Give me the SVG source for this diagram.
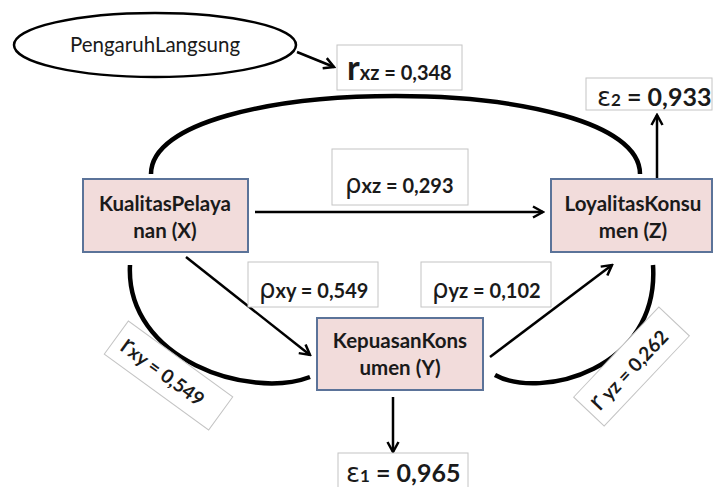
<svg xmlns="http://www.w3.org/2000/svg" width="713" height="487" viewBox="0 0 713 487">
<style>
.node{fill:#f2dcdb;stroke:#5b7399;stroke-width:2}
.lbl{fill:#fff;stroke:#c4c4c4;stroke-width:1}
.t{font-family:Lato,"Liberation Sans",sans-serif;fill:#1a1a1a}
.b{font-weight:bold}
.arr{stroke:#000;stroke-width:2.5;fill:none;marker-end:url(#ah)}
.arc{stroke:#000;stroke-width:4.5;fill:none}
.sym{font-family:"DejaVu Sans","Liberation Sans",sans-serif}
</style>
<defs>
<marker id="ah" viewBox="0 0 14 14" refX="12" refY="7" markerWidth="14" markerHeight="14" markerUnits="userSpaceOnUse" orient="auto">
<path d="M2,1.5 L12,7 L2,12.5" fill="none" stroke="#000" stroke-width="2.5"/>
</marker>
</defs>
<g id="connectors">
<path class="arc" d="M151,174 C151,70 640,70 640,174"/>
<path class="arc" d="M130,265 C125,360 250,400 310,377"/>
<path class="arc" d="M495,375 C540,400 660,370 653,265"/>
<line class="arr" x1="297" y1="52" x2="334" y2="67"/>
<line class="arr" x1="255" y1="212" x2="543" y2="212"/>
<line class="arr" x1="186" y1="257" x2="310" y2="355"/>
<line class="arr" x1="490" y1="357" x2="612" y2="265"/>
<line class="arr" x1="393" y1="397" x2="393" y2="452"/>
<line class="arr" x1="657" y1="178" x2="657" y2="115"/>
</g>
<g id="pengaruh">
<ellipse cx="155" cy="45" rx="141" ry="32" fill="#fff" stroke="#000" stroke-width="2.5"/>
<text class="t" x="155" y="52" font-size="20.5" text-anchor="middle">PengaruhLangsung</text>
</g>
<g id="X">
<rect class="node" x="83" y="179" width="165" height="73"/>
<text class="t b" x="165" y="211" font-size="20.5" text-anchor="middle">KualitasPelaya</text>
<text class="t b" x="165" y="238" font-size="20.5" text-anchor="middle">nan (X)</text>
</g>
<g id="Z">
<rect class="node" x="551" y="179" width="161" height="73"/>
<text class="t b" x="633" y="211" font-size="20.5" text-anchor="middle">LoyalitasKonsu</text>
<text class="t b" x="633" y="238" font-size="20.5" text-anchor="middle">men (Z)</text>
</g>
<g id="Y">
<rect class="node" x="317" y="318" width="166" height="72"/>
<text class="t b" x="400" y="348" font-size="20.5" text-anchor="middle">KepuasanKons</text>
<text class="t b" x="400" y="375" font-size="20.5" text-anchor="middle">umen (Y)</text>
</g>
<g id="rxz">
<rect class="lbl" x="337" y="45" width="125" height="45"/>
<text class="t b" x="347" y="80"><tspan font-size="34">r</tspan><tspan font-size="20">xz = 0,348</tspan></text>
</g>
<g id="e2">
<rect class="lbl" x="586" y="78" width="126" height="32"/>
<text class="t b" x="597" y="106"><tspan class="sym" font-size="26" font-weight="normal">ε</tspan><tspan font-size="17">2</tspan><tspan font-size="25"> = 0,933</tspan></text>
</g>
<g id="pxz">
<rect class="lbl" x="332" y="149" width="136" height="56"/>
<text class="t b" x="345" y="193"><tspan class="sym" font-size="26" font-weight="normal">ρ</tspan><tspan font-size="20">xz = 0,293</tspan></text>
</g>
<g id="pxy">
<rect class="lbl" x="248" y="262" width="130" height="45"/>
<text class="t b" x="259" y="298"><tspan class="sym" font-size="26" font-weight="normal">ρ</tspan><tspan font-size="20">xy = 0,549</tspan></text>
</g>
<g id="pyz">
<rect class="lbl" x="421" y="262" width="130" height="45"/>
<text class="t b" x="432" y="298"><tspan class="sym" font-size="26" font-weight="normal">ρ</tspan><tspan font-size="20">yz = 0,102</tspan></text>
</g>
<g id="e1">
<rect class="lbl" x="338" y="453" width="130" height="40"/>
<text class="t b" x="346" y="482"><tspan class="sym" font-size="26" font-weight="normal">ε</tspan><tspan font-size="17">1</tspan><tspan font-size="25"> = 0,965</tspan></text>
</g>
<g id="rxy" transform="translate(168.5,375.5) rotate(36)">
<rect class="lbl" x="-64.5" y="-20.5" width="129" height="41"/>
<text class="t b" x="-56" y="8"><tspan font-size="28" font-weight="normal">r</tspan><tspan font-size="19">xy = 0,549</tspan></text>
</g>
<g id="ryz" transform="translate(631.5,366.5) rotate(-46.6)">
<rect class="lbl" x="-62" y="-21" width="124" height="42"/>
<text class="t b" x="-55" y="8"><tspan font-size="28" font-weight="normal">r</tspan><tspan font-size="19"> yz = 0,262</tspan></text>
</g>
</svg>
